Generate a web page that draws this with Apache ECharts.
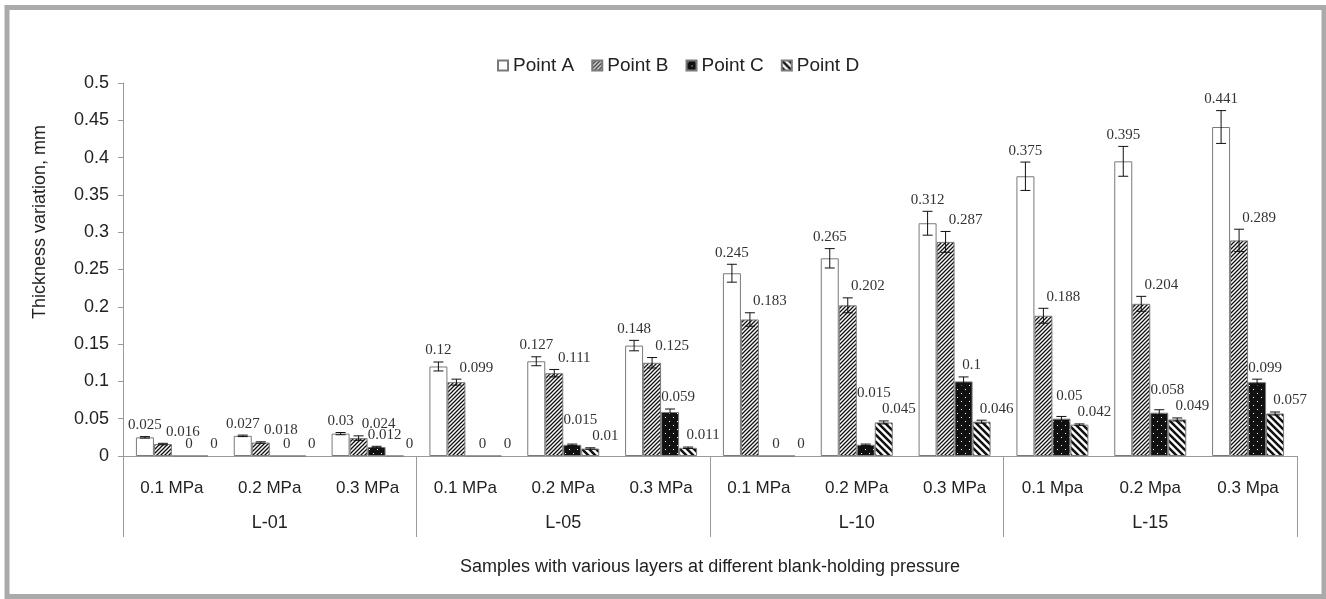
<!DOCTYPE html>
<html>
<head>
<meta charset="utf-8">
<script src="https://cdn.jsdelivr.net/npm/echarts@6/dist/echarts.min.js"></script>
<style>
html,body{margin:0;padding:0;background:#fff;}
#chart{width:1326px;height:599px;}
</style>
</head>
<body>
<div id="chart"></div>
<script>
// ---- data ----
const categories = ['0.1 MPa','0.2 MPa','0.3 MPa','0.1 MPa','0.2 MPa','0.3 MPa','0.1 MPa','0.2 MPa','0.3 MPa','0.1 Mpa','0.2 Mpa','0.3 Mpa'];
const groups = ['L-01','L-05','L-10','L-15'];
const seriesNames = ['Point A','Point B','Point C','Point D'];
const pointA = [0.025,0.027,0.03, 0.12,0.127,0.148, 0.245,0.265,0.312, 0.375,0.395,0.441];
const pointB = [0.016,0.018,0.024, 0.099,0.111,0.125, 0.183,0.202,0.287, 0.188,0.204,0.289];
const pointC = [0,0,0.012, 0,0.015,0.059, 0,0.015,0.1, 0.05,0.058,0.099];
const pointD = [0,0,0, 0,0.01,0.011, 0,0.045,0.046, 0.042,0.049,0.057];
const errA = [0.001,0.001,0.0015, 0.006,0.006,0.007, 0.012,0.013,0.016, 0.019,0.02,0.022];
const errB = [0.001,0.001,0.003, 0.004,0.005,0.007, 0.009,0.01,0.014, 0.01,0.01,0.015];
const errC = [0,0,0.001, 0,0.001,0.004, 0,0.001,0.006, 0.003,0.004,0.004];
const errD = [0,0,0, 0,0.001,0.001, 0,0.002,0.002, 0.001,0.002,0.002];
const yTitle = 'Thickness variation, mm';
const xTitle = 'Samples with various layers at different blank-holding pressure';

// ---- styles ----
const values = [pointA, pointB, pointC, pointD];
const errs = [errA, errB, errC, errD];
const labelDx = [0, 20, 8, 15];
const BAR_W = 18;
const LABEL_H = 15;

function textW(t) {
  let w = 0;
  for (const ch of t) w += (ch === '.') ? 3.75 : 7.5;
  return w;
}

function makeTile(size, draw) {
  const c = document.createElement('canvas');
  c.width = size; c.height = size;
  const ctx = c.getContext('2d');
  draw(ctx, size);
  return c;
}
const hatchB = makeTile(4, (ctx, s) => {
  ctx.fillStyle = '#fff'; ctx.fillRect(0, 0, s, s);
  ctx.strokeStyle = '#111'; ctx.lineWidth = 1.3;
  ctx.beginPath();
  ctx.moveTo(-1, s + 1); ctx.lineTo(s + 1, -1);
  ctx.moveTo(-1, 1); ctx.lineTo(1, -1);
  ctx.moveTo(s - 1, s + 1); ctx.lineTo(s + 1, s - 1);
  ctx.stroke();
});
const dotsC = makeTile(8, (ctx, s) => {
  ctx.fillStyle = '#111'; ctx.fillRect(0, 0, s, s);
  ctx.fillStyle = '#fff';
  ctx.fillRect(1, 1, 1, 1);
  ctx.fillRect(5, 5, 1, 1);
});
const hatchD = makeTile(7, (ctx, s) => {
  ctx.fillStyle = '#fff'; ctx.fillRect(0, 0, s, s);
  ctx.strokeStyle = '#111'; ctx.lineWidth = 2.5;
  ctx.beginPath();
  ctx.moveTo(-1, -1); ctx.lineTo(s + 1, s + 1);
  ctx.moveTo(-2, s - 2); ctx.lineTo(2, s + 2);
  ctx.moveTo(s - 2, -2); ctx.lineTo(s + 2, 2);
  ctx.stroke();
});
const fills = ['#ffffff', {image: hatchB, repeat: 'repeat'}, {image: dotsC, repeat: 'repeat'}, {image: hatchD, repeat: 'repeat'}];

const errData = [];
for (let s = 0; s < 4; s++) {
  for (let i = 0; i < categories.length; i++) {
    errData.push([i, values[s][i], errs[s][i], s]);
  }
}

const SANS = '"Liberation Sans", Arial, sans-serif';
const SERIF = '"Liberation Serif", "Times New Roman", serif';
const AX = '#9a9a9a';

const chart = echarts.init(document.getElementById('chart'), null, {renderer: 'canvas'});

const barSeries = seriesNames.map((n, s) => ({
  name: n,
  type: 'bar',
  data: values[s],
  barWidth: BAR_W,
  barGap: '0%',
  itemStyle: {color: fills[s], borderColor: '#7a7a7a', borderWidth: 1},
  emphasis: {disabled: true},
  animation: false
}));

const errSeries = {
  name: 'err',
  type: 'custom',
  data: errData,
  encode: {x: 0, y: 1},
  clip: false,
  z: 5,
  animation: false,
  renderItem: function (params, api) {
    const ci = api.value(0), v = api.value(1), e = api.value(2), s = api.value(3);
    const c = api.coord([ci, v]);
    const x = c[0] + (s - 1.5) * BAR_W;
    const yTop = api.coord([ci, v + e])[1];
    const yBot = api.coord([ci, v - e])[1];
    const children = [];
    const ls = {stroke: '#111', lineWidth: 1};
    if (e > 0) {
      children.push({type: 'line', shape: {x1: x, y1: yTop, x2: x, y2: yBot}, style: ls});
      children.push({type: 'line', shape: {x1: x - 5, y1: yTop, x2: x + 5, y2: yTop}, style: ls});
      children.push({type: 'line', shape: {x1: x - 5, y1: yBot, x2: x + 5, y2: yBot}, style: ls});
    }
    const txt = String(v);
    const lx = x + labelDx[s];
    let lb = yTop - 4; // label bottom
    if (s === 2) {
      // keep the Point C label clear of the neighbouring Point D bar and label
      const dv = pointD[ci], de = errD[ci];
      const dTxt = String(dv);
      const dBarX = x + BAR_W;
      const dx = dBarX + labelDx[3];
      const db = api.coord([ci, dv + de])[1] - 4;
      const dBarTop = api.coord([ci, dv])[1];
      const right = lx + textW(txt) / 2;
      const hitsBar = right > dBarX - BAR_W / 2 && lb > dBarTop;
      const hOverlap = (textW(txt) + textW(dTxt)) / 2 - Math.abs(dx - lx);
      const hitsLabel = hOverlap > 2 && Math.abs(db - lb) < LABEL_H;
      if (hitsBar || hitsLabel) {
        lb = Math.min(lb, db - LABEL_H - 1);
      }
    }
    children.push({
      type: 'text',
      x: lx,
      y: lb,
      z2: 10,
      style: {text: txt, textAlign: 'center', textVerticalAlign: 'bottom', font: '15px ' + SERIF, fill: '#333'}
    });
    return {type: 'group', children: children};
  }
};

chart.setOption({
  backgroundColor: '#fff',
  animation: false,
  legend: {
    data: seriesNames,
    left: 492,
    top: 51,
    icon: 'rect',
    itemWidth: 10,
    itemHeight: 10,
    itemGap: 17,
    textStyle: {fontFamily: SANS, fontSize: 19, color: '#222'}
  },
  grid: {left: 123, right: 29, top: 83, bottom: 143, containLabel: false},
  xAxis: [
    {
      type: 'category',
      data: categories,
      position: 'bottom',
      axisLine: {show: true, lineStyle: {color: AX, width: 1}},
      axisTick: {show: false},
      axisLabel: {margin: 24, fontFamily: SANS, fontSize: 17, color: '#222', interval: 0},
      splitLine: {show: false}
    },
    {
      type: 'category',
      data: groups,
      position: 'bottom',
      gridIndex: 0,
      axisLine: {show: false},
      axisTick: {show: true, length: 81, lineStyle: {color: AX, width: 1}},
      axisLabel: {margin: 58, fontFamily: SANS, fontSize: 18, color: '#222', interval: 0},
      splitLine: {show: false},
      name: xTitle,
      nameLocation: 'middle',
      nameGap: 102,
      nameTextStyle: {fontFamily: SANS, fontSize: 18, color: '#222'}
    }
  ],
  yAxis: {
    type: 'value',
    min: 0,
    max: 0.5,
    interval: 0.05,
    axisLine: {show: true, lineStyle: {color: AX, width: 1}},
    axisTick: {show: true, length: 5, lineStyle: {color: AX}},
    axisLabel: {margin: 14, fontFamily: SANS, fontSize: 18, color: '#222'},
    splitLine: {show: false}
  },
  graphic: [
    {
      type: 'rect',
      shape: {x: 7, y: 7.5, width: 1317, height: 589},
      style: {fill: 'none', stroke: '#aaaaaa', lineWidth: 5},
      silent: true,
      z: 100
    },
    {
      type: 'text',
      x: 40,
      y: 222,
      rotation: Math.PI / 2,
      style: {text: yTitle, textAlign: 'center', textVerticalAlign: 'middle', font: '18px ' + SANS, fill: '#222'},
      silent: true
    }
  ],
  series: barSeries.concat([errSeries])
});
</script>
</body>
</html>
